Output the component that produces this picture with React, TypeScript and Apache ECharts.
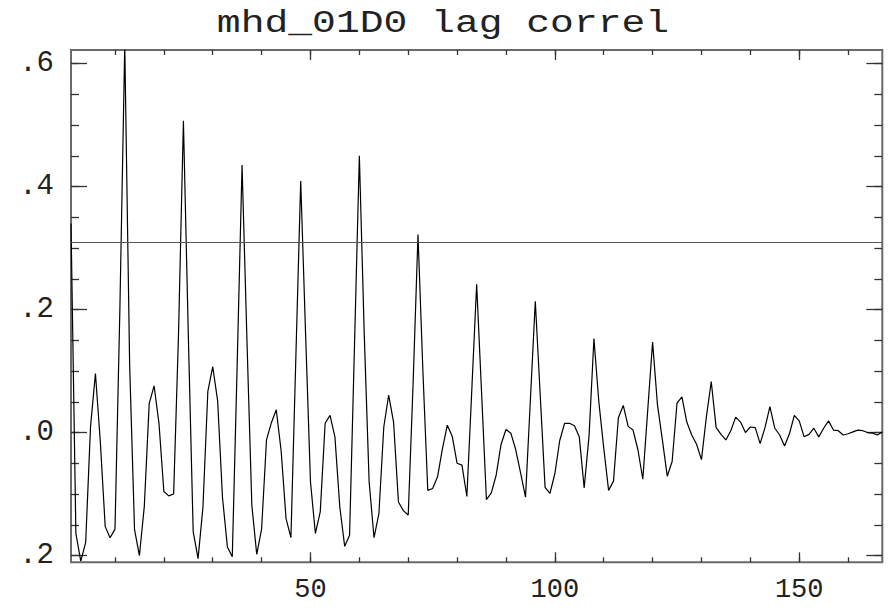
import React, { useEffect, useRef } from 'react';
import * as echarts from 'echarts';

const TITLE = 'mhd_01D0 lag correl';
const FIRST_LAG = 1;
// lag correlation values for lags 1..167
const correl = [
  0.34, -0.164, -0.209, -0.179, 0.01, 0.096, -0.015, -0.153, -0.171, -0.157,
  0.2, 0.63, 0.11, -0.158, -0.2, -0.12, 0.047, 0.076, 0.015, -0.096,
  -0.103, -0.1, 0.16, 0.507, 0.16, -0.161, -0.205, -0.121, 0.067, 0.107,
  0.052, -0.106, -0.186, -0.202, 0.11, 0.435, 0.15, -0.118, -0.198, -0.157,
  -0.012, 0.016, 0.037, -0.03, -0.14, -0.171, 0.12, 0.409, 0.16, -0.08,
  -0.164, -0.129, 0.015, 0.028, -0.007, -0.121, -0.185, -0.167, 0.14, 0.45,
  0.16, -0.08, -0.171, -0.132, 0.009, 0.061, 0.017, -0.113, -0.127, -0.134,
  0.08, 0.322, 0.1, -0.094, -0.091, -0.072, -0.026, 0.012, -0.006, -0.05,
  -0.053, -0.104, 0.068, 0.241, 0.066, -0.109, -0.098, -0.069, -0.019, 0.005,
  -0.001, -0.028, -0.066, -0.105, 0.054, 0.2135, 0.062, -0.089, -0.099, -0.067,
  -0.013, 0.015, 0.015, 0.011, -0.007, -0.09, -0.005, 0.153, 0.05, -0.025,
  -0.094, -0.079, 0.024, 0.044, 0.01, 0.004, -0.028, -0.076, 0.036, 0.147,
  0.045, -0.012, -0.071, -0.047, 0.048, 0.058, 0.017, -0.004, -0.019, -0.044,
  0.025, 0.083, 0.008, -0.003, -0.012, 0.003, 0.025, 0.017, 0.0, 0.009,
  0.008, -0.018, 0.008, 0.042, 0.007, -0.004, -0.022, -0.002, 0.028, 0.019,
  -0.007, -0.003, 0.007, -0.007, 0.007, 0.019, 0.004, 0.003, -0.004, -0.002,
  0.001, 0.004, 0.003, 0.0, -0.001, -0.004, 0.001,
];
const thresholdLevel = 0.308;

const X_MIN = 1;
const X_MAX = 167;
const Y_MIN = -0.211;
const Y_MAX = 0.622;
const xMajorTicks = [50, 100, 150];
const xMinorTicks = [10, 20, 30, 40, 50, 60, 70, 80, 90, 100, 110, 120, 130, 140, 150, 160];
const yMajorTicks = [-0.2, 0, 0.2, 0.4, 0.6];
const yMinorTicks = [-0.2, -0.15, -0.1, -0.05, 0, 0.05, 0.1, 0.15, 0.2, 0.25, 0.3, 0.35, 0.4, 0.45, 0.5, 0.55, 0.6];

const FONT = 'Liberation Mono';
const FRAME = '#6a6a6a';
const TICK = '#333333';
const TEXT = '#222';
const G_LEFT = 71;
const G_RIGHT = 7.7;
const G_TOP = 50;
const G_BOTTOM = 45.7;
const PLOT_H = 608 - G_TOP - G_BOTTOM;

// x axis drawn along the bottom edge; when "atTop", it is shifted up to the top edge
function xAxisDef(atTop: boolean, values: number[], len: number, labels: boolean, line: boolean) {
  return {
    type: 'value',
    position: 'bottom',
    offset: atTop ? -PLOT_H : 0,
    min: X_MIN,
    max: X_MAX,
    axisLine: { show: line, onZero: false, lineStyle: { color: FRAME, width: 2 } },
    axisTick: {
      show: true,
      inside: !atTop,
      length: len,
      customValues: values,
      lineStyle: { color: TICK, width: 1.3 },
    },
    axisLabel: labels
      ? { show: true, customValues: values, margin: 14, fontFamily: FONT, fontSize: 27, color: TEXT }
      : { show: false },
    splitLine: { show: false },
  };
}

function yAxisDef(position: 'left' | 'right', values: number[], len: number, labels: boolean) {
  return {
    type: 'value',
    position,
    min: Y_MIN,
    max: Y_MAX,
    axisLine: { show: false, onZero: false },
    axisTick: { show: true, inside: true, length: len, customValues: values, lineStyle: { color: TICK, width: 1.3 } },
    axisLabel: labels
      ? {
          show: true,
          customValues: values,
          margin: 17,
          fontFamily: FONT,
          fontSize: 29,
          color: TEXT,
          padding: [5, 0, 0, 0],
          formatter: (v: number) => Math.abs(v).toFixed(1).replace(/^0/, ''),
        }
      : { show: false },
    splitLine: { show: false },
  };
}

export default function App() {
  const ref = useRef<HTMLDivElement>(null);
  useEffect(() => {
    if (!ref.current) return;
    const chart = echarts.init(ref.current, undefined, { renderer: 'svg' });
    const points = correl.map((v, i) => [FIRST_LAG + i, v]);
    chart.setOption({
      animation: false,
      backgroundColor: '#ffffff',
      graphic: [
        {
          type: 'text',
          x: 443,
          y: 8,
          scaleX: 1.28,
          silent: true,
          style: {
            text: TITLE,
            x: 0,
            y: 0,
            align: 'center',
            verticalAlign: 'top',
            fontFamily: FONT,
            fontSize: 31,
            fill: TEXT,
          },
        },
      ],
      grid: {
        left: G_LEFT,
        right: G_RIGHT,
        top: G_TOP,
        bottom: G_BOTTOM,
        containLabel: false,
        show: true,
        backgroundColor: 'transparent',
        borderColor: FRAME,
        borderWidth: 2,
      },
      xAxis: [
        xAxisDef(false, xMajorTicks, 10, true, false),
        xAxisDef(true, xMajorTicks, 10, false, true),
        xAxisDef(false, xMinorTicks, 5, false, false),
        xAxisDef(true, xMinorTicks, 5, false, false),
      ],
      yAxis: [
        yAxisDef('left', yMajorTicks, 16, true),
        yAxisDef('right', yMajorTicks, 16, false),
        yAxisDef('left', yMinorTicks, 8, false),
        yAxisDef('right', yMinorTicks, 8, false),
      ],
      series: [
        {
          type: 'line',
          xAxisIndex: 0,
          yAxisIndex: 0,
          data: points,
          showSymbol: false,
          symbol: 'none',
          clip: true,
          lineStyle: { color: '#000', width: 1.2 },
          markLine: {
            silent: true,
            symbol: 'none',
            label: { show: false },
            lineStyle: { color: '#555', width: 1.2, type: 'solid' },
            data: [{ yAxis: thresholdLevel }],
          },
        },
      ],
    });
    return () => chart.dispose();
  }, []);
  return (
    <div
      ref={ref}
      style={{ position: 'fixed', left: 0, top: 0, width: 890, height: 608, background: '#fff' }}
    />
  );
}
